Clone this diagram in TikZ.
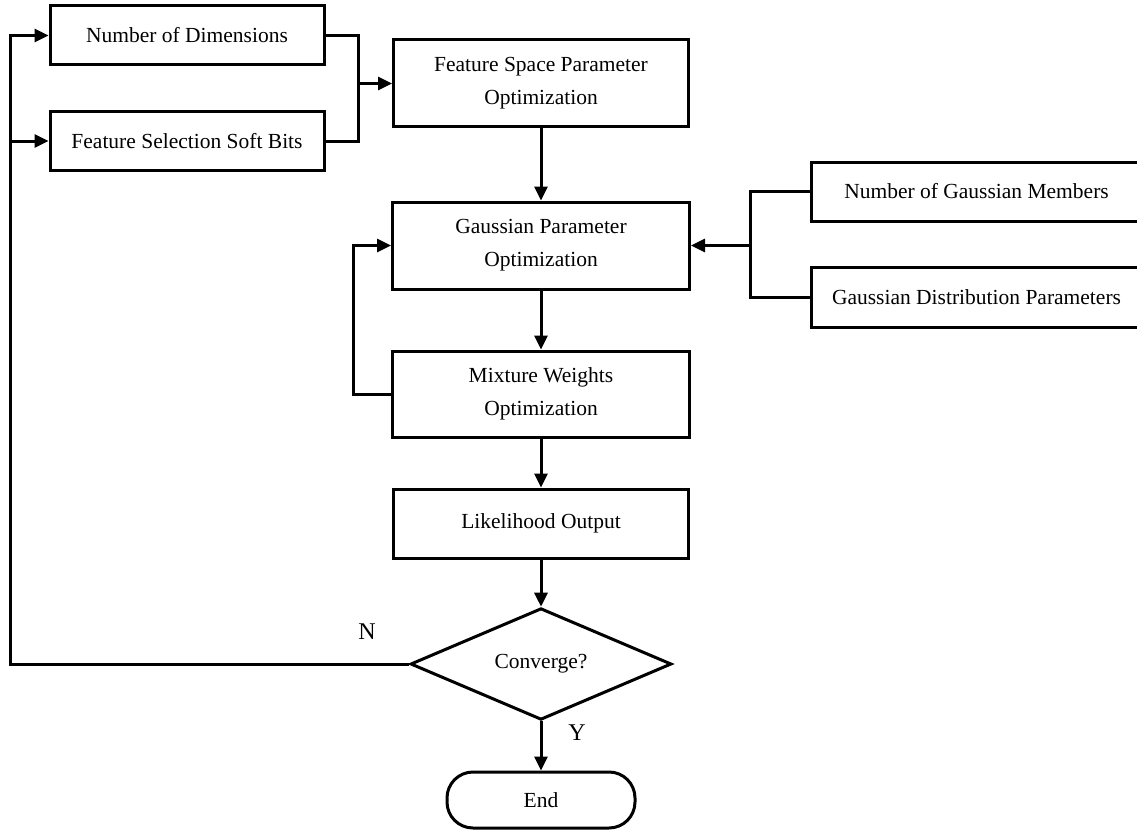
\documentclass[tikz,border=0pt]{standalone}
\usepackage{fontspec}
\setmainfont{Liberation Serif}
\usetikzlibrary{arrows.meta,shapes.geometric}
\begin{document}
\begin{tikzpicture}[x=1pt,y=-1pt,
  every node/.style={font=\fontsize{21.5}{33}\selectfont, align=center, inner sep=0pt},
  box/.style={draw, line width=3pt, rectangle},
  ln/.style={line width=3pt},
  arr/.style={ln, -{Triangle[length=14pt,width=13pt]}},
  lbl/.style={font=\fontsize{24}{28}\selectfont}
]
\useasboundingbox (0,0) rectangle (1137,832);
% boxes
\node[box, minimum width=274pt, minimum height=59pt] (nod) at (187,35.5) {Number of Dimensions};
\node[box, minimum width=274pt, minimum height=58pt] (fss) at (187,141) {Feature Selection Soft Bits};
\node[box, minimum width=295pt, minimum height=87pt] (fsp) at (541,83.5) {Feature Space Parameter\\Optimization};
\node[box, minimum width=297pt, minimum height=87pt] (gpo) at (541,245.5) {Gaussian Parameter\\Optimization};
\node[box, minimum width=297pt, minimum height=86pt] (mwo) at (541,394) {Mixture Weights\\Optimization};
\node[box, minimum width=295pt, minimum height=69pt] (lo) at (541,523.5) {Likelihood Output};
\node[box, minimum width=331pt, minimum height=59pt] (ngm) at (976.5,191.5) {Number of Gaussian Members};
\node[box, minimum width=331pt, minimum height=60pt] (gdp) at (976.5,297) {Gaussian Distribution Parameters};
\node[draw, diamond, line width=3pt, minimum width=261pt, minimum height=78pt] (dia) at (541,664) {Converge?};
\node[draw, line width=3pt, rounded corners=26pt, minimum width=188pt, minimum height=56pt] (end) at (541,800) {End};
% junction coordinates
\coordinate (j1) at (358,83.5);
\coordinate (j2) at (750,245.5);
\coordinate (lp) at (353,300);
\coordinate (lft) at (10,400);
% connectors
\draw[ln] (nod.east) -| (j1) |- (fss.east);
\draw[arr] (j1) -- (fsp.west);
\draw[arr] (fsp.south) -- (gpo.north);
\draw[arr] (gpo.south) -- (mwo.north);
\draw[arr] (mwo.west) -| (lp) |- (gpo.west);
\draw[ln] (ngm.west) -| (j2) |- (gdp.west);
\draw[arr] (j2) -- (gpo.east);
\draw[arr] (mwo.south) -- (lo.north);
\draw[arr] (lo.south) -- (dia.north);
\draw[arr] (dia.south) -- (end.north);
\draw[arr] (dia.west) -| (lft) |- (nod.west);
\draw[arr] (lft |- fss.west) -- (fss.west);
% labels
\node[lbl] (n) at (367,632) {N};
\node[lbl] (y) at (577,733) {Y};
\end{tikzpicture}
\end{document}
